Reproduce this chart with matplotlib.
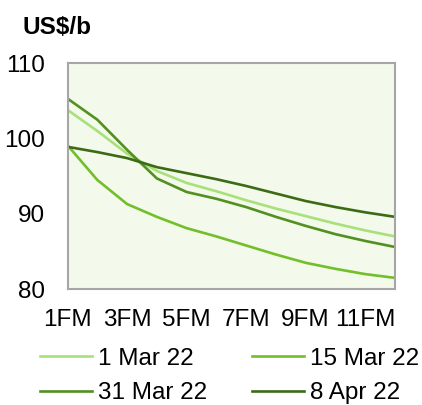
import numpy as np
import matplotlib
matplotlib.use("Agg")
import matplotlib.pyplot as plt

plt.rcParams['font.family'] = ['Liberation Sans', 'DejaVu Sans']

months = [1, 2, 3, 4, 5, 6, 7, 8, 9, 10, 11, 12]
tick_months = [1, 3, 5, 7, 9, 11]
tick_labels = ["1FM", "3FM", "5FM", "7FM", "9FM", "11FM"]

mar01 = [103.8, 101.0, 98.0, 95.7, 94.1, 93.0, 91.8, 90.7, 89.7, 88.7, 87.8, 87.0]
mar15 = [99.1, 94.5, 91.3, 89.6, 88.1, 87.0, 85.8, 84.6, 83.5, 82.7, 82.0, 81.5]
mar31 = [105.3, 102.5, 98.5, 94.7, 92.9, 92.0, 90.9, 89.6, 88.4, 87.3, 86.4, 85.6]
apr08 = [98.9, 98.2, 97.4, 96.2, 95.4, 94.6, 93.7, 92.7, 91.7, 90.9, 90.2, 89.6]

fig = plt.figure(figsize=(4.22, 4.05), dpi=100)
ax = fig.add_axes([0.160, 0.286, 0.776, 0.558])
ax.set_facecolor("#f3f9eb")

l1, = ax.plot(months, mar01, color="#a8e07a", lw=1.9, label="1 Mar 22")
l2, = ax.plot(months, mar15, color="#72bf2a", lw=1.9, label="15 Mar 22")
l3, = ax.plot(months, mar31, color="#52901f", lw=1.9, label="31 Mar 22")
l4, = ax.plot(months, apr08, color="#3c6b16", lw=1.9, label="8 Apr 22")

ax.set_xlim(1, 12)
ax.set_ylim(80, 110)
ax.set_xticks(tick_months)
ax.set_xticklabels(tick_labels)
ax.set_yticks([80, 90, 100, 110])
ax.tick_params(length=0, labelsize=17.5)
ax.tick_params(axis='y', pad=16)
ax.tick_params(axis='x', pad=14)
for s in ax.spines.values():
    s.set_color("#a6a6a6")
    s.set_linewidth(1.5)

fig.text(22/422, 1-27/405, "US$/b", fontsize=17.5, fontweight='bold', va='center')

fig.legend([l1, l3, l2, l4], ["1 Mar 22", "31 Mar 22", "15 Mar 22", "8 Apr 22"],
           ncol=2, frameon=False, fontsize=17.5, loc='center left',
           bbox_to_anchor=(40/422, 1-376/405), handlelength=2.14,
           handletextpad=0.25, columnspacing=1.85, labelspacing=0.52,
           borderaxespad=0, borderpad=0)

fig.savefig("out.png", dpi=100)
